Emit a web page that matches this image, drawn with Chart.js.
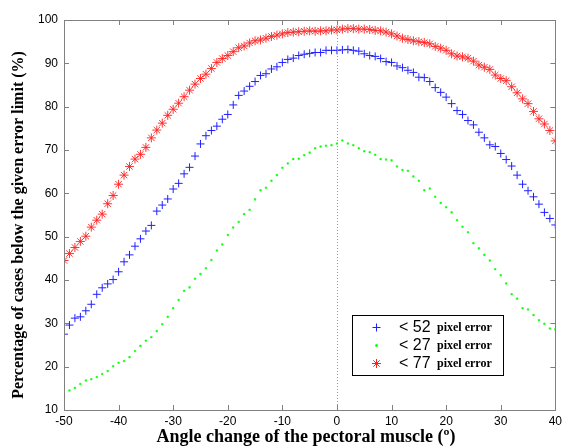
<!DOCTYPE html>
<html>
<head>
<meta charset="utf-8">
<script src="https://cdn.jsdelivr.net/npm/chart.js@4.4.0/dist/chart.umd.min.js"></script>
<style>
html,body{margin:0;padding:0;background:#fff;}
#wrap{width:566px;height:448px;position:relative;}
</style>
</head>
<body>
<div id="wrap"><canvas id="c" width="566" height="448"></canvas></div>
<script>
const angles = [-50,-49,-48,-47,-46,-45,-44,-43,-42,-41,-40,-39,-38,-37,-36,-35,-34,-33,-32,-31,-30,-29,-28,-27,-26,-25,-24,-23,-22,-21,-20,-19,-18,-17,-16,-15,-14,-13,-12,-11,-10,-9,-8,-7,-6,-5,-4,-3,-2,-1,0,1,2,3,4,5,6,7,8,9,10,11,12,13,14,15,16,17,18,19,20,21,22,23,24,25,26,27,28,29,30,31,32,33,34,35,36,37,38,39,40];

const err52 = [27.5,29.6,31.2,31.5,32.9,34.4,36.7,38.2,39.1,40.1,41.9,44.2,45.8,47.8,49.5,51.3,52.6,55.9,57.3,58.7,61.0,62.3,64.5,66.0,68.6,71.4,73.3,74.5,75.5,77.1,78.2,80.4,82.6,83.6,84.7,85.8,87.2,87.6,88.7,89.2,90.2,90.9,91.2,91.8,92.1,92.3,92.5,92.5,93.0,93.0,93.0,93.1,93.2,93.0,92.8,92.2,91.8,91.6,91.1,90.4,90.2,89.4,89.0,88.4,87.9,86.8,86.7,85.8,84.4,83.3,82.2,80.7,79.1,78.2,76.8,75.8,74.1,72.8,71.2,70.8,69.2,67.8,66.3,64.2,62.1,60.6,59.2,57.5,55.6,54.2,52.7];

const err27 = [13.3,14.5,15.1,16.0,16.8,17.1,17.6,18.3,19.0,20.1,20.9,21.3,22.2,23.6,24.8,26.0,26.8,28.2,29.8,31.5,33.5,35.4,37.5,38.3,40.3,41.4,42.7,44.6,46.8,48.2,50.4,52.1,53.4,55.2,56.2,58.6,60.7,61.3,62.9,64.2,65.9,66.9,67.9,68.0,68.8,69.4,70.4,70.8,71.0,71.1,71.5,72.2,71.5,71.1,70.4,69.7,69.5,68.9,67.9,67.8,67.6,66.2,65.4,65.2,63.9,62.9,60.7,61.1,59.2,57.8,56.8,55.6,53.8,52.3,51.0,48.5,47.3,45.8,44.5,42.5,41.1,39.2,36.7,35.7,33.5,33.2,31.9,30.7,29.9,28.8,28.6];

const err77 = [44.5,46.1,47.5,48.9,50.1,52.2,53.8,55.2,57.6,59.5,62.1,64.2,66.2,67.9,69.0,70.6,72.8,74.6,76.2,78.0,79.4,80.8,82.3,83.8,85.2,86.5,87.5,88.8,90.2,91.1,91.8,92.7,93.6,94.0,94.7,95.2,95.4,95.8,96.2,96.5,96.8,97.1,97.2,97.3,97.4,97.5,97.4,97.5,97.5,97.7,97.7,97.9,98.0,98.0,97.9,97.9,97.8,97.6,97.5,97.2,96.8,96.3,95.8,95.5,95.2,95.0,94.8,94.5,93.9,93.5,93.0,92.2,91.7,91.5,91.2,90.5,89.6,89.1,88.6,87.3,86.5,86.0,84.6,83.2,81.8,80.7,78.9,77.2,76.0,74.5,72.1];

const xTicks = [-50,-40,-30,-20,-10,0,10,20,30,40];
const yTicks = [10,20,30,40,50,60,70,80,90,100];
const seriesNames = ['< 52','< 27','< 77'];
const legendSuffix = 'pixel error';
const xTitle = 'Angle change of the pectoral muscle (\u00BA)';
const yTitle = 'Percentage of cases below the given error limit (%)';

function pts(arr){ return angles.map((a,i)=>({x:a,y:arr[i]})); }

const framePlugin = {
  id:'frame',
  afterDatasetsDraw(chart){
    const {ctx, chartArea:a, scales:{x,y}} = chart;
    ctx.save();
    ctx.strokeStyle = '#9a9a9a';
    ctx.lineWidth = 1;
    ctx.setLineDash([1,2]);
    const x0 = Math.round(x.getPixelForValue(0))+0.5;
    ctx.beginPath(); ctx.moveTo(x0,a.top); ctx.lineTo(x0,a.bottom); ctx.stroke();
    ctx.setLineDash([]);
    ctx.strokeStyle = '#808080';
    ctx.strokeRect(Math.round(a.left)+0.5, Math.round(a.top)+0.5, Math.round(a.right-a.left), Math.round(a.bottom-a.top));
    const tl = 5;
    ctx.beginPath();
    xTicks.forEach(v=>{
      const px = Math.round(x.getPixelForValue(v))+0.5;
      ctx.moveTo(px,a.bottom); ctx.lineTo(px,a.bottom-tl);
      ctx.moveTo(px,a.top); ctx.lineTo(px,a.top+tl);
    });
    yTicks.forEach(v=>{
      const py = Math.round(y.getPixelForValue(v))+0.5;
      ctx.moveTo(a.left,py); ctx.lineTo(a.left+tl,py);
      ctx.moveTo(a.right,py); ctx.lineTo(a.right-tl,py);
    });
    ctx.stroke();
    ctx.fillStyle = '#000';
    ctx.font = 'bold 18px "Liberation Serif", "Times New Roman", serif';
    ctx.textAlign = 'center'; ctx.textBaseline = 'middle';
    ctx.fillText(xTitle, 306, 437);
    ctx.save();
    ctx.translate(19, 225);
    ctx.rotate(-Math.PI/2);
    ctx.font = 'bold 16px "Liberation Serif", "Times New Roman", serif';
    ctx.fillText(yTitle, 0, 0);
    ctx.restore();
    const L = 352, T = 315, W = 151, H = 60;
    ctx.fillStyle = '#fff';
    ctx.fillRect(L, T, W, H);
    ctx.strokeStyle = '#000';
    ctx.strokeRect(L+0.5, T+0.5, W, H);
    const rows = [327, 345, 363];
    chart.data.datasets.forEach((ds,i)=>{
      const cy = rows[i];
      ctx.fillStyle = ds.pointBackgroundColor;
      ctx.strokeStyle = ds.pointBorderColor;
      ctx.lineWidth = 1;
      Chart.helpers.drawPoint(ctx, {pointStyle: ds.pointStyle, radius: ds.pointRadius, borderWidth: 1, rotation:0}, 376.5, cy+0.5);
      ctx.fillStyle = '#000';
      ctx.textAlign = 'left'; ctx.textBaseline = 'middle';
      ctx.font = '16px "Liberation Sans", Arial, sans-serif';
      ctx.fillText(seriesNames[i], 399, cy+1);
      ctx.font = 'bold 12px "Liberation Serif", "Times New Roman", serif';
      ctx.fillText(legendSuffix, 437, cy+1);
    });
    ctx.restore();
  }
};

new Chart(document.getElementById('c'), {
  type:'scatter',
  data:{
    datasets:[
      {label:seriesNames[0], data:pts(err52), pointStyle:'cross', pointRadius:4, pointBorderColor:'#2020ff', pointBackgroundColor:'#2020ff', pointBorderWidth:1, borderColor:'#0000ff', backgroundColor:'#0000ff', showLine:false},
      {label:seriesNames[1], data:pts(err27), pointStyle:'rect', pointRadius:1.1, pointBorderColor:'#00ff00', pointBackgroundColor:'#00ff00', pointBorderWidth:0.5, borderColor:'#00ff00', backgroundColor:'#00ff00', showLine:false},
      {label:seriesNames[2], data:pts(err77), pointStyle:'star', pointRadius:4.5, pointBorderColor:'#ff2020', pointBackgroundColor:'#ff2020', pointBorderWidth:0.9, borderColor:'#ff0000', backgroundColor:'#ff0000', showLine:false}
    ]
  },
  options:{
    responsive:false,
    animation:false,
    events:[],
    layout:{padding:{top:20,right:6,left:0,bottom:0}},
    plugins:{legend:{display:false}, tooltip:{enabled:false}},
    scales:{
      x:{
        type:'linear', min:-50, max:40,
        afterBuildTicks(s){ s.ticks = xTicks.map(v=>({value:v})); },
        afterFit(s){ s.height = 38; },
        grid:{display:false, drawTicks:false},
        border:{display:false},
        ticks:{color:'#000', padding:4, maxRotation:0, autoSkip:false, font:{family:'"Liberation Sans", Arial, sans-serif', size:12}}
      },
      y:{
        type:'linear', min:10, max:100,
        afterBuildTicks(s){ s.ticks = yTicks.map(v=>({value:v})); },
        afterFit(s){ s.width = 64; },
        grid:{display:false, drawTicks:false},
        border:{display:false},
        ticks:{color:'#000', padding:6, autoSkip:false, font:{family:'"Liberation Sans", Arial, sans-serif', size:12}}
      }
    }
  },
  plugins:[framePlugin]
});
</script>
</body>
</html>
